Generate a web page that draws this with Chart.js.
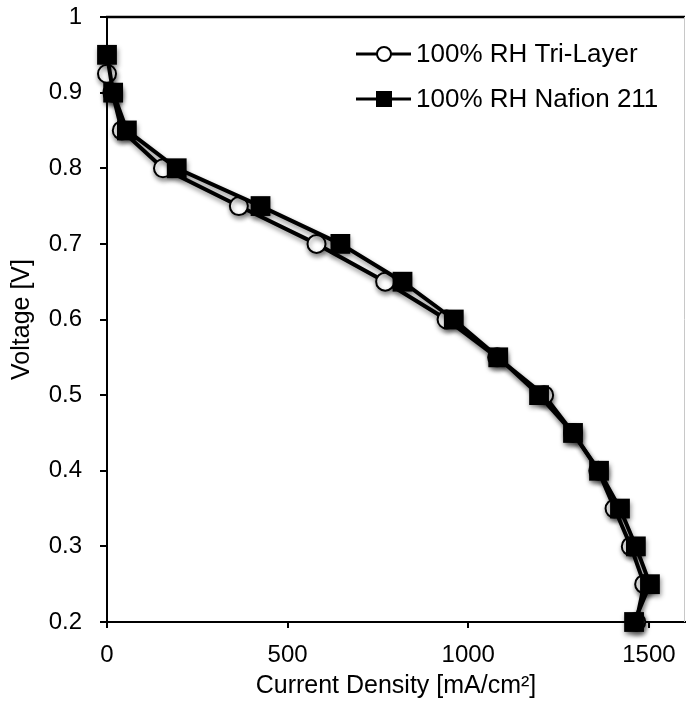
<!DOCTYPE html>
<html>
<head>
<meta charset="utf-8">
<script src="https://cdn.jsdelivr.net/npm/chart.js@4/dist/chart.umd.min.js"></script>
<style>
  html, body { margin: 0; padding: 0; background: #fff; }
  #wrap { width: 686px; height: 712px; position: relative; }
</style>
</head>
<body>
<div id="wrap"><canvas id="c" width="686" height="712"></canvas></div>
<script>
// ---- data ----
const seriesNames = ["100% RH Tri-Layer", "100% RH Nafion 211"];
const currentTri = [0, 15, 41, 155, 365, 580, 770, 940, 1080, 1210, 1290, 1360, 1405, 1450, 1487, 1465];
const voltageTri = [0.925, 0.9, 0.85, 0.8, 0.75, 0.7, 0.65, 0.6, 0.55, 0.5, 0.45, 0.4, 0.35, 0.3, 0.25, 0.2];
const currentNaf = [0, 17, 55, 193, 425, 646, 818, 960, 1083, 1196, 1290, 1362, 1420, 1464, 1503, 1459];
const voltageNaf = [0.95, 0.9, 0.85, 0.8, 0.75, 0.7, 0.65, 0.6, 0.55, 0.5, 0.45, 0.4, 0.35, 0.3, 0.25, 0.2];
const xTicks = [0, 500, 1000, 1500];
const yTicks = [0.2, 0.3, 0.4, 0.5, 0.6, 0.7, 0.8, 0.9, 1.0];
const xTitle = "Current Density [mA/cm\u00B2]";
const yTitle = "Voltage [V]";

const FONT = '"Liberation Sans", Arial, Helvetica, sans-serif';

function toPoints(xs, ys) { return xs.map((x, i) => ({ x: x, y: ys[i] })); }
function noPad(s) { s.paddingTop = 0; s.paddingBottom = 0; s.paddingLeft = 0; s.paddingRight = 0; }

const extras = {
  id: 'extras',
  beforeDatasetsDraw(chart) {
    const ctx = chart.ctx;
    ctx.save();
    ctx.shadowColor = 'rgba(0,0,0,0.45)';
    ctx.shadowBlur = 5;
    ctx.shadowOffsetX = 1;
    ctx.shadowOffsetY = 3;
  },
  afterDatasetsDraw(chart) {
    chart.ctx.restore();
  },
  afterDraw(chart) {
    const ctx = chart.ctx;
    const a = chart.chartArea;
    ctx.save();
    // top border
    ctx.strokeStyle = '#000';
    ctx.lineWidth = 2.5;
    ctx.beginPath();
    ctx.moveTo(a.left - 1, a.top);
    ctx.lineTo(a.right, a.top);
    ctx.stroke();
    // right border (light)
    ctx.strokeStyle = '#c8c8c8';
    ctx.lineWidth = 1;
    ctx.beginPath();
    ctx.moveTo(a.right - 0.5, a.top);
    ctx.lineTo(a.right - 0.5, a.bottom);
    ctx.stroke();

    // legend
    const rows = [54, 99];
    const x0 = 356, x1 = 411, xm = 384, tx = 416;
    ctx.font = '26px ' + FONT;
    ctx.textBaseline = 'middle';
    ctx.textAlign = 'left';
    rows.forEach((y, i) => {
      ctx.strokeStyle = '#000';
      ctx.lineWidth = 3;
      ctx.beginPath();
      ctx.moveTo(x0, y);
      ctx.lineTo(x1, y);
      ctx.stroke();
      if (i === 0) {
        ctx.beginPath();
        ctx.arc(xm, y, 7, 0, Math.PI * 2);
        ctx.fillStyle = '#fff';
        ctx.fill();
        ctx.lineWidth = 2;
        ctx.stroke();
      } else {
        ctx.fillStyle = '#000';
        ctx.fillRect(xm - 8, y - 8, 16, 16);
      }
      ctx.fillStyle = '#000';
      ctx.fillText(seriesNames[i], tx, y + 1);
    });
    ctx.restore();
  }
};

new Chart(document.getElementById('c'), {
  type: 'line',
  data: {
    datasets: [
      {
        label: seriesNames[0],
        data: toPoints(currentTri, voltageTri),
        borderColor: '#000',
        borderWidth: 4,
        backgroundColor: '#fff',
        pointStyle: 'circle',
        pointRadius: 9,
        pointBorderWidth: 2,
        pointBorderColor: '#000',
        pointBackgroundColor: '#fff',
        tension: 0,
        clip: false,
        order: 1
      },
      {
        label: seriesNames[1],
        data: toPoints(currentNaf, voltageNaf),
        borderColor: '#000',
        borderWidth: 4,
        backgroundColor: '#000',
        pointStyle: 'rect',
        pointRadius: 14,
        pointBorderWidth: 0,
        pointBorderColor: '#000',
        pointBackgroundColor: '#000',
        tension: 0,
        clip: false,
        order: 0
      }
    ]
  },
  options: {
    responsive: false,
    animation: false,
    devicePixelRatio: 1,
    layout: { autoPadding: false, padding: { top: 17, right: 1, left: 0, bottom: 0 } },
    plugins: {
      legend: { display: false },
      tooltip: { enabled: false }
    },
    scales: {
      x: {
        type: 'linear',
        min: 0,
        max: 1600,
        afterBuildTicks: s => { s.ticks = xTicks.map(v => ({ value: v })); },
        afterFit: s => { s.height = 90; noPad(s); },
        grid: { display: true, drawOnChartArea: false, drawTicks: true, tickLength: 6, color: '#000', lineWidth: 2 },
        border: { display: true, color: '#000', width: 2 },
        ticks: { color: '#000', font: { family: FONT, size: 24 }, padding: 13, maxRotation: 0,
                 callback: v => String(v) },
        title: { display: true, text: xTitle, color: '#000', font: { family: FONT, size: 25 }, padding: { top: 0, bottom: 11 } }
      },
      y: {
        type: 'linear',
        min: 0.2,
        max: 1.0,
        afterBuildTicks: s => { s.ticks = yTicks.map(v => ({ value: v })); },
        afterFit: s => { s.width = 107; noPad(s); },
        grid: { display: true, drawOnChartArea: false, drawTicks: true, tickLength: 7, color: '#000', lineWidth: 2 },
        border: { display: true, color: '#000', width: 2 },
        ticks: { color: '#000', font: { family: FONT, size: 24 }, padding: 18,
                 callback: v => String(Number(v.toFixed(1))) },
        title: { display: true, text: yTitle, color: '#000', font: { family: FONT, size: 25 }, padding: { top: 7, bottom: 0 } }
      }
    }
  },
  plugins: [extras]
});
</script>
</body>
</html>
